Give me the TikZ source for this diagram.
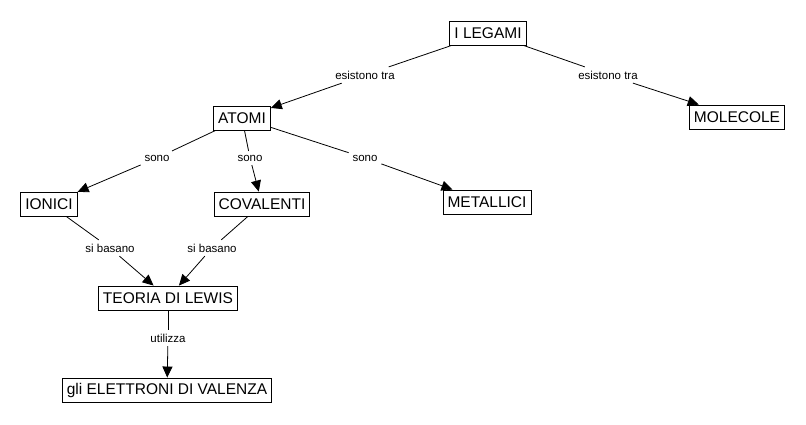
\documentclass[tikz,border=0pt]{standalone}
\usepackage{fontspec}
\setmainfont{Liberation Sans}
\usetikzlibrary{arrows.meta}
\tikzset{
  concetto/.style={draw, line width=0.9pt, inner xsep=4.5pt, inner ysep=1pt, minimum height=24pt, font=\fontsize{15.5}{17}\selectfont},
  legame/.style={inner sep=3.5pt, font=\fontsize{11.5}{13}\selectfont},
  freccia/.style={-{Triangle[length=11pt,width=10pt]}}
}
\begin{document}
\begin{tikzpicture}[x=1pt, y=-1pt, line width=0.8pt]
        \useasboundingbox (0,0) rectangle (806,424);

        % Concetti
        \node[concetto] (legami) at (488, 33) {I LEGAMI};
        \node[concetto] (molecole) at (737, 117) {MOLECOLE};
        \node[concetto] (atomi) at (242, 118) {ATOMI};
        \node[concetto] (ionici) at (49, 204) {IONICI};
        \node[concetto] (covalenti) at (262, 204) {COVALENTI};
        \node[concetto] (metallici) at (487, 202) {METALLICI};
        \node[concetto] (lewis) at (168, 298) {TEORIA DI LEWIS};
        \node[concetto] (elettroni) at (167, 390) {gli ELETTRONI DI VALENZA};

        % Parole legame
        \node[legame] (tra1) at (365, 75) {esistono tra};
        \node[legame] (tra2) at (608, 75) {esistono tra};
        \node[legame] (sono1) at (157, 158) {sono};
        \node[legame] (sono2) at (250, 158) {sono};
        \node[legame] (sono3) at (365, 158) {sono};
        \node[legame] (basano1) at (110, 248) {si basano};
        \node[legame] (basano2) at (212, 248) {si basano};
        \node[legame] (utilizza) at (168, 338) {utilizza};

        % Collegamenti
        \draw (legami) -- (tra1);
        \draw[freccia] (tra1) -- (atomi);
        \draw (legami) -- (tra2);
        \draw[freccia] (tra2) -- (molecole);

        \draw (atomi) -- (sono1);
        \draw[freccia] (sono1) -- (ionici);
        \draw (atomi) -- (sono2);
        \draw[freccia] (sono2) -- (covalenti);
        \draw (atomi) -- (sono3);
        \draw[freccia] (sono3) -- (metallici);

        \draw (ionici) -- (basano1);
        \draw[freccia] (basano1) -- (lewis);
        \draw (covalenti) -- (basano2);
        \draw[freccia] (basano2) -- (lewis);

        \draw (lewis) -- (utilizza);
        \draw[freccia] (utilizza) -- (elettroni);
\end{tikzpicture}
\end{document}
